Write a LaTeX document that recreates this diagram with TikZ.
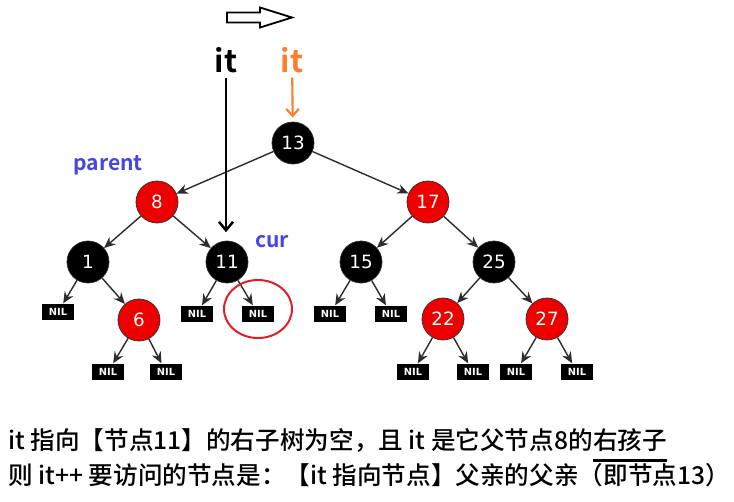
\documentclass[tikz,border=0pt]{standalone}
\usepackage{fontspec}
\usepackage{xcolor}
\usetikzlibrary{arrows.meta,positioning}
\newfontfamily\cjkfont{Noto Sans CJK SC Medium}
\newfontfamily\labelfont{Noto Sans CJK SC Bold}
\newfontfamily\treefont{DejaVu Sans}
\definecolor{rbred}{RGB}{238,0,0}
\definecolor{edgegray}{RGB}{45,45,45}
\definecolor{itorange}{RGB}{255,125,40}
\definecolor{labelblue}{RGB}{70,70,225}
\definecolor{ringred}{RGB}{225,30,40}

\begin{document}
\begin{tikzpicture}[x=0.025cm, y=0.025cm,
  blacknode/.style={circle, fill=black, draw=edgegray, line width=0.5pt, minimum size=1.05cm, inner sep=0pt, text=white, font=\treefont\fontsize{13}{13}\selectfont},
  rednode/.style={blacknode, fill=rbred},
  nilbox/.style={rectangle, fill=black, minimum width=0.82cm, minimum height=0.42cm, inner sep=0pt, text=white, font=\treefont\bfseries\fontsize{7}{7}\selectfont},
  edge/.style={draw=edgegray, line width=1pt, -{Stealth[length=8pt,width=7pt]}},
  itlabel/.style={font=\labelfont\fontsize{22}{22}\selectfont},
  rolelabel/.style={text=labelblue, font=\labelfont\fontsize{15}{15}\selectfont},
  caption/.style={inner sep=0pt, font=\cjkfont\fontsize{17.5}{17.5}\selectfont}]
  \fill[white] (0,0) rectangle (734,-501);
  \useasboundingbox (0,0) rectangle (734,-501);
  % tree
  \node[blacknode] (n13) at (293,-143) {13};
  \node[rednode] (n8) at (157,-202) {8};
  \node[rednode] (n17) at (428,-202) {17};
  \node[blacknode] (n1) at (88,-262) {1};
  \node[blacknode] (n11) at (227,-262) {11};
  \node[blacknode] (n15) at (361,-262) {15};
  \node[blacknode] (n25) at (494,-262) {25};
  \node[rednode] (n6) at (139,-320) {6};
  \node[rednode] (n22) at (443,-319) {22};
  \node[rednode] (n27) at (547,-319) {27};
  \node[nilbox] (nil1) at (58,-312) {NIL};
  \node[nilbox] (nil11a) at (197,-314) {NIL};
  \node[nilbox] (nil11b) at (258,-314) {NIL};
  \node[nilbox] (nil15a) at (330,-314) {NIL};
  \node[nilbox] (nil15b) at (391,-314) {NIL};
  \node[nilbox] (nil6a) at (108,-372) {NIL};
  \node[nilbox] (nil6b) at (166,-372) {NIL};
  \node[nilbox] (nil22a) at (413,-372) {NIL};
  \node[nilbox] (nil22b) at (473,-372) {NIL};
  \node[nilbox] (nil27a) at (516,-372) {NIL};
  \node[nilbox] (nil27b) at (577,-372) {NIL};
  \foreach \from/\to in {n13/n8, n13/n17, n8/n1, n8/n11, n1/nil1, n1/n6, n6/nil6a, n6/nil6b,
    n11/nil11a, n11/nil11b, n17/n15, n17/n25, n15/nil15a, n15/nil15b, n25/n22, n25/n27,
    n22/nil22a, n22/nil22b, n27/nil27a, n27/nil27b}
    \draw[edge] (\from) -- (\to);
  % iterators
  \draw[line width=1.3pt, fill=white] (227,-12.5) -- (260,-12.5) -- (260,-7.5) -- (292,-17.5)
    -- (260,-27.5) -- (260,-22.5) -- (227,-22.5) -- cycle;
  \node[itlabel] (itold) at (226,-60) {it};
  \node[itlabel, text=itorange] (itnew) at (292,-60) {it};
  \draw[line width=1.8pt, -{Straight Barb[length=6pt,width=10pt]}, shorten >=6pt] (itold) -- (itold |- n11.north);
  \draw[itorange, line width=1.5pt, -{Straight Barb[length=5pt,width=9pt]}, shorten >=3pt] (itnew) -- (n13);
  \node[rolelabel] (parentlbl) at (108,-165) {parent};
  \node[rolelabel] (curlbl) at (272,-242) {cur};
  \draw[ringred, line width=1.4pt] (258,-309) ellipse [x radius=34, y radius=29];
  % explanation
  \node[caption, anchor=west] (lineone) at (8,-440) {it 指向【节点11】的右子树为空，且 it 是它父节点8的};
  \node[caption, base right=0pt of lineone] (rightkid) {右孩子};
  \draw[line width=2pt] ([yshift=-6.5pt]rightkid.south west) -- ([yshift=-6.5pt]rightkid.south east);
  \node[caption, anchor=west] (linetwo) at (8,-475) {则 it++ 要访问的节点是：【it 指向节点】父亲的父亲（即节点13）};
\end{tikzpicture}
\end{document}
